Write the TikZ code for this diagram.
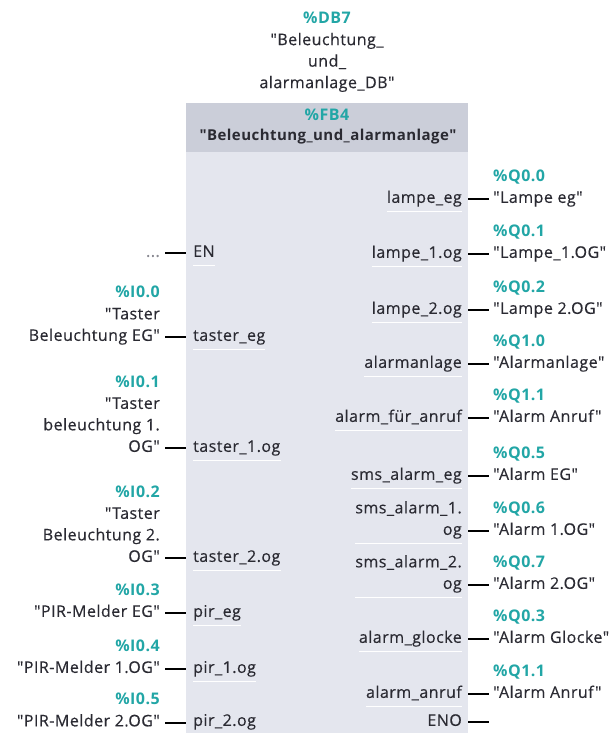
\documentclass[tikz,border=0pt]{standalone}
\usepackage{fontspec}
% plain straight quotes: no TeX ligature mapping on this family
\newfontfamily\diagfont{Open Sans}[LetterSpace=3, UprightFeatures={FakeBold=0.35}]
\definecolor{addr}{HTML}{22A6A6}
\definecolor{ink}{HTML}{2A2A32}
\definecolor{hdr}{HTML}{CBCED9}
\definecolor{fbbody}{HTML}{E4E6EE}
\definecolor{dots}{HTML}{8A8A92}
\newcommand{\addrtag}[1]{\textcolor{addr}{\bfseries #1}}
\begin{document}
\begin{tikzpicture}[x=1pt,y=-1pt,
  every node/.style={font=\diagfont\fontsize{16}{21.5}\selectfont, text=ink, inner sep=0pt},
  blockbody/.style={fill=fbbody, minimum width=282pt, minimum height=632pt, anchor=north west},
  inpin/.style={anchor=south west, inner xsep=7pt, inner ysep=1.5pt, align=left,
    append after command={\pgfextra{\draw[white, line width=0.8pt]
      (\tikzlastnode.south west) ++(7pt,0) -- ([xshift=-7pt]\tikzlastnode.south east);}}},
  outpin/.style={anchor=south east, inner xsep=6pt, inner ysep=1.5pt, align=right,
    append after command={\pgfextra{\draw[white, line width=0.8pt]
      (\tikzlastnode.south west) ++(6pt,0) -- ([xshift=-6pt]\tikzlastnode.south east);}}},
  inlabel/.style={anchor=south east, inner xsep=5pt, inner ysep=0pt, align=right},
  outlabel/.style={anchor=south west, inner xsep=4pt, inner ysep=0pt, align=left},
  wire/.style={draw=black, line width=2pt},
]
\useasboundingbox (0,0) rectangle (610,733);

% instance data block above the call
\node[align=center] (db) at (327,52) {\addrtag{\%DB7}\\"Beleuchtung\_\\und\_\\alarmanlage\_DB"};

% function block body and header
\node[blockbody] (fb) at (186,103) {};
\fill[hdr] (fb.north west) rectangle ([yshift=-49pt]fb.north east);
\node[font=\diagfont\fontsize{16}{21.5}\selectfont\bfseries, text=addr] (fbnum) at (327,115) {\%FB4};
\node[font=\diagfont\fontsize{15}{21.5}\selectfont\bfseries] (fbname) at (328,137) {"Beleuchtung\_und\_alarmanlage"};

% input pins
\node[inpin] (en)   at (186,265) {EN\strut};
\node[inpin] (tseg) at (186,349) {taster\_eg\strut};
\node[inpin] (ts1)  at (186,460) {taster\_1.og\strut};
\node[inpin] (ts2)  at (186,570) {taster\_2.og\strut};
\node[inpin] (pireg) at (186,625) {pir\_eg\strut};
\node[inpin] (pir1) at (186,681) {pir\_1.og\strut};
\node[inpin] (pir2) at (186,734) {pir\_2.og\strut};

% output pins
\node[outpin] (lpeg) at (468,211) {lampe\_eg\strut};
\node[outpin] (lp1)  at (468,266) {lampe\_1.og\strut};
\node[outpin] (lp2)  at (468,322) {lampe\_2.og\strut};
\node[outpin] (alm)  at (468,376) {alarmanlage\strut};
\node[outpin] (alfa) at (468,430) {alarm\_für\_anruf\strut};
\node[outpin] (smseg) at (468,488) {sms\_alarm\_eg\strut};
\node[outpin] (sms1) at (468,543) {sms\_alarm\_1.\\og\strut};
\node[outpin] (sms2) at (468,597) {sms\_alarm\_2.\\og\strut};
\node[outpin] (glo)  at (468,651) {alarm\_glocke\strut};
\node[outpin] (anr)  at (468,706) {alarm\_anruf\strut};
\node[outpin] (eno)  at (468,734) {ENO\strut};

% operands on the inputs
\node[inlabel] (x_en)  at (165,263.5) {\textcolor{dots}{...}\strut};
\node[inlabel] (x_tseg) at (165,347.5) {\addrtag{\%I0.0}\\"Taster\\Beleuchtung EG"\strut};
\node[inlabel] (x_ts1) at (165,458.5) {\addrtag{\%I0.1}\\"Taster\\beleuchtung 1.\\OG"\strut};
\node[inlabel] (x_ts2) at (165,568.5) {\addrtag{\%I0.2}\\"Taster\\Beleuchtung 2.\\OG"\strut};
\node[inlabel] (x_pireg) at (165,623.5) {\addrtag{\%I0.3}\\"PIR-Melder EG"\strut};
\node[inlabel] (x_pir1) at (165,679.5) {\addrtag{\%I0.4}\\"PIR-Melder 1.OG"\strut};
\node[inlabel] (x_pir2) at (165,733) {\addrtag{\%I0.5}\\"PIR-Melder 2.OG"\strut};

% operands on the outputs
\node[outlabel] (y_lpeg) at (489,209.5) {\addrtag{\%Q0.0}\\"Lampe eg"\strut};
\node[outlabel] (y_lp1)  at (489,264.5) {\addrtag{\%Q0.1}\\"Lampe\_1.OG"\strut};
\node[outlabel] (y_lp2)  at (489,320.5) {\addrtag{\%Q0.2}\\"Lampe 2.OG"\strut};
\node[outlabel] (y_alm)  at (489,374.5) {\addrtag{\%Q1.0}\\"Alarmanlage"\strut};
\node[outlabel] (y_alfa) at (489,428.5) {\addrtag{\%Q1.1}\\"Alarm Anruf"\strut};
\node[outlabel] (y_smseg) at (489,486.5) {\addrtag{\%Q0.5}\\"Alarm EG"\strut};
\node[outlabel] (y_sms1) at (489,541.5) {\addrtag{\%Q0.6}\\"Alarm 1.OG"\strut};
\node[outlabel] (y_sms2) at (489,595.5) {\addrtag{\%Q0.7}\\"Alarm 2.OG"\strut};
\node[outlabel] (y_glo)  at (489,649.5) {\addrtag{\%Q0.3}\\"Alarm Glocke"\strut};
\node[outlabel] (y_anr)  at (489,704.5) {\addrtag{\%Q1.1}\\"Alarm Anruf"\strut};
\coordinate (y_eno) at (489,722);

% input connections
\foreach \src/\dst in {x_en/en, x_tseg/tseg, x_ts1/ts1, x_ts2/ts2, x_pireg/pireg, x_pir1/pir1, x_pir2/pir2}
  \draw[wire] ([yshift=10.5pt]\src.south east) -- ([yshift=10.5pt]\src.south east -| \dst.west);

% output connections
\foreach \src/\dst in {lpeg/y_lpeg, lp1/y_lp1, lp2/y_lp2, alm/y_alm, alfa/y_alfa, smseg/y_smseg, sms1/y_sms1, sms2/y_sms2, glo/y_glo, anr/y_anr}
  \draw[wire] ([yshift=12pt]\src.south east) -- ([yshift=12pt]\src.south east -| \dst.west);
\draw[wire] ([yshift=12pt]eno.south east) -- (eno.south east |- y_eno) -- (y_eno);
\end{tikzpicture}
\end{document}
